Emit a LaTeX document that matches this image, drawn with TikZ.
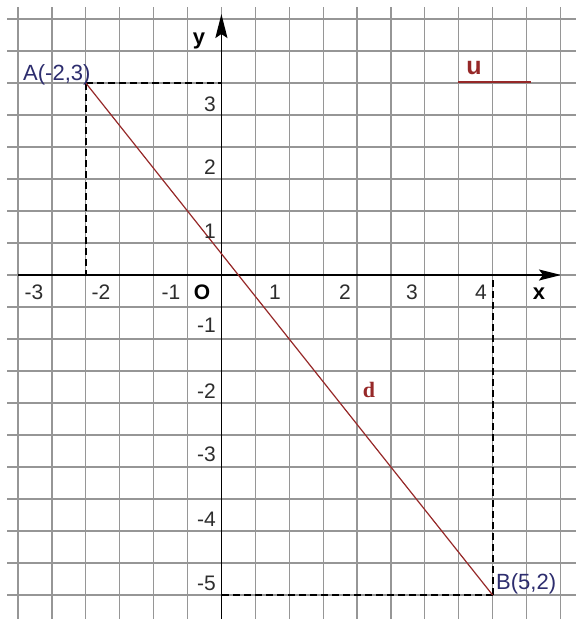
\documentclass[tikz,border=0pt]{standalone}
\usepackage{fontspec}
\setmainfont{Liberation Sans}
\newfontfamily\seriffam{Liberation Serif}
\usetikzlibrary{arrows.meta}
\definecolor{gridgray}{RGB}{150,150,150}
\definecolor{navy}{RGB}{45,45,110}
\definecolor{dred}{RGB}{150,40,40}
\definecolor{numgray}{RGB}{45,45,45}
\begin{document}
\begin{tikzpicture}[x=1pt,y=-1pt,
  gridline/.style={draw=gridgray, line width=1.2pt},
  axisline/.style={draw=black, line width=1.8pt},
  dashline/.style={draw=black, line width=1.8pt, dash pattern=on 7pt off 4pt},
  dline/.style={draw=dred, line width=1.2pt},
  numlab/.style={font=\fontsize{21}{25}\selectfont, text=numgray, inner sep=0pt},
  ylab/.style={numlab, anchor=east},
  ptlab/.style={font=\fontsize{22}{26}\selectfont, text=navy, inner sep=0pt, anchor=base west},
  axlab/.style={font=\fontsize{22}{26}\selectfont\bfseries, text=black, inner sep=0pt},
  redlab/.style={font=\fontsize{25}{29}\selectfont\bfseries, text=dred, inner sep=0pt}
]
\useasboundingbox[fill=white] (0,0) rectangle (576,619);
% grid
\foreach \k in {0,...,16}
  \draw[gridline] ({18+33.9*\k},7) -- ({18+33.9*\k},619);
\foreach \j in {0,...,18}
  \draw[gridline] (7,{19+32*\j}) -- (576,{19+32*\j});
% key coordinates
\coordinate (O) at (221.4,275);
\coordinate (xs) at (18,275);
\coordinate (xe) at (561,275);
\coordinate (ys) at (221.4,619);
\coordinate (ye) at (221.4,14);
\coordinate (A) at (85.8,83);
\coordinate (B) at (492.6,595);
\coordinate (u1) at (458,82);
\coordinate (u2) at (531,82);
% dashed projections
\draw[dashline] (A) -- (A|-O);
\draw[dashline] (A) -- (A-|O);
\draw[dashline] (B) -- (B|-O);
\draw[dashline] (B) -- (B-|O);
% axes
\draw[axisline,-{Stealth[length=22pt,width=11pt,inset=4pt]}] (xs) -- (xe);
\draw[axisline,-{Stealth[length=24pt,width=12pt,inset=4pt]}] (ys) -- (ye);
% line d
\draw[dline] (A) -- (B);
% u segment
\draw[dred, line width=1.6pt] (u1) -- (u2);
% x-axis labels
\node[numlab] (xm3) at (34,292) {-3};
\node[numlab] (xm2) at (101,292) {-2};
\node[numlab] (xm1) at (171,292) {-1};
\node[axlab, font=\fontsize{21}{25}\selectfont\bfseries] (olab) at (202,292) {O};
\node[numlab] (x1) at (275,292) {1};
\node[numlab] (x2) at (345,292) {2};
\node[numlab] (x3) at (412,292) {3};
\node[numlab] (x4) at (481,292) {4};
% y-axis labels
\node[ylab] (y3) at (216,104) {3};
\node[ylab] (y2) at (216,167) {2};
\node[ylab] (y1) at (216,231) {1};
\node[ylab] (ym1) at (216,325) {-1};
\node[ylab] (ym2) at (216,391) {-2};
\node[ylab] (ym3) at (216,454) {-3};
\node[ylab] (ym4) at (216,519) {-4};
\node[ylab] (ym5) at (216,583) {-5};
% axis names
\node[axlab] (xname) at (539,294) {x};
\node[axlab] (yname) at (199,41) {y};
% point labels
\node[ptlab] (Alab) at (23,80) {A(-2,3)};
\node[ptlab] (Blab) at (496,589) {B(5,2)};
% red labels
\node[redlab] (ulab) at (474,68) {u};
\node[redlab, font=\fontsize{22}{26}\seriffam\bfseries] (dlab) at (369,390) {d};
\end{tikzpicture}
\end{document}
